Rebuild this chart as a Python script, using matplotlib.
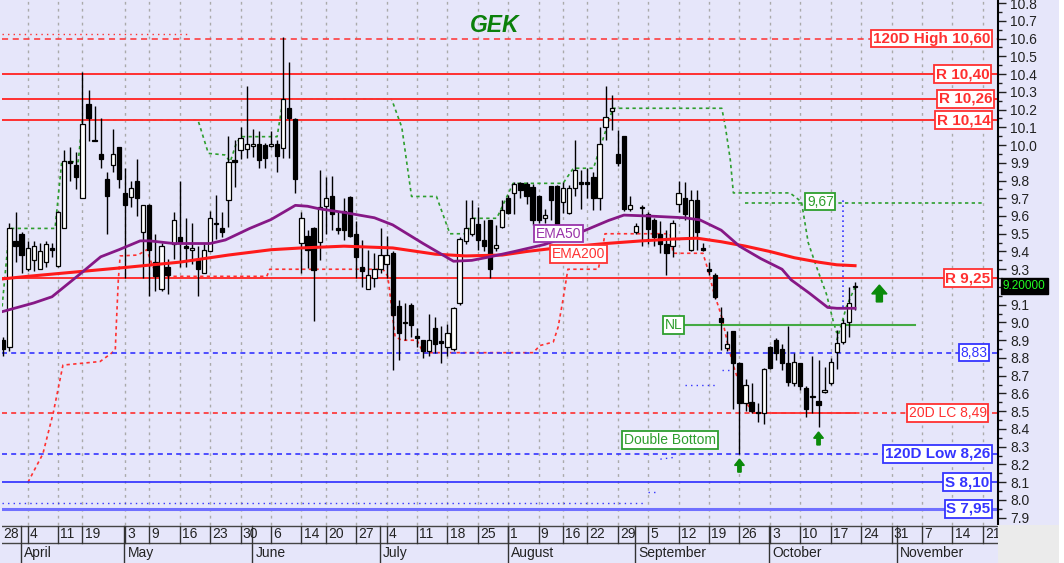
import numpy as np
import matplotlib.pyplot as plt
from matplotlib.patches import Rectangle, FancyArrow

plt.rcParams['font.family'] = ['Liberation Sans', 'DejaVu Sans']

BG = '#e6e6fa'

# ==================== data (trading-day index, 0 = 4 April) ====================
first_day = -4
opens = [8.90, 8.86, 9.46, 9.50, 9.30, 9.35, 9.30, 9.34, 9.42, 9.32,
         9.53, 9.91, 9.89, 9.70, 10.23, 10.03, 9.95, 9.81, 9.89, 9.99,
         9.73, 9.705, 9.80, 9.51, 9.66, 9.34, 9.19, 9.31, 9.44, 9.48,
         9.43, 9.41, 9.35, 9.28, 9.40, 9.56, 9.53, 9.69, 9.91, 9.97,
         9.975, 9.995, 10.005, 10.0, 9.995, 10.005, 9.985, 10.21, 10.145, 9.446,
         9.49, 9.53, 9.455, 9.656, 9.71, 9.53, 9.63, 9.705, 9.50, 9.31,
         9.19, 9.25, 9.30, 9.33, 9.39, 9.095, 9.00, 9.098, 8.925, 8.90,
         8.84, 8.97, 8.895, 8.86, 8.85, 9.11, 9.46, 9.50, 9.555, 9.465,
         9.58, 9.42, 9.54, 9.70, 9.73, 9.785, 9.78, 9.765, 9.71, 9.59,
         9.77, 9.77, 9.68, 9.615, 9.755, 9.79, 9.79, 9.82, 9.70, 10.10,
         10.19, 9.95, 10.05, 9.64, 9.51, 9.65, 9.61, 9.58, 9.50, 9.445,
         9.43, 9.67, 9.70, 9.41, 9.69, 9.42, 9.30, 9.27, 9.024, 8.855,
         8.95, 8.77, 8.545, 8.55, 8.497, 8.49, 8.86, 8.90, 8.85, 8.77,
         8.66, 8.77, 8.63, 8.58, 8.56, 8.61, 8.66, 8.835, 8.89, 9.00,
         9.20]
highs = [8.92, 9.56, 9.62, 9.51, 9.46, 9.46, 9.45, 9.46, 9.45, 9.63,
         9.97, 9.99, 9.96, 10.41, 10.31, 10.22, 10.15, 9.85, 10.09, 9.99,
         9.87, 9.80, 9.92, 9.66, 9.67, 9.50, 9.45, 9.36, 9.625, 9.80,
         9.59, 9.56, 9.43, 9.445, 9.63, 9.72, 9.625, 10.05, 10.03, 10.10,
         10.33, 10.09, 10.08, 10.01, 10.08, 10.03, 10.61, 10.47, 10.15, 9.62,
         9.52, 9.54, 9.86, 9.82, 9.825, 9.625, 9.70, 9.71, 9.57, 9.465,
         9.41, 9.39, 9.53, 9.49, 9.40, 9.127, 9.11, 9.11, 8.97, 8.90,
         9.05, 9.03, 8.98, 8.99, 9.09, 9.48, 9.69, 9.69, 9.65, 9.58,
         9.58, 9.55, 9.69, 9.72, 9.79, 9.79, 9.79, 9.78, 9.72, 9.64,
         9.77, 9.775, 9.79, 9.775, 10.03, 9.86, 9.87, 9.85, 10.10, 10.33,
         10.28, 10.085, 10.05, 9.71, 9.56, 9.66, 9.62, 9.59, 9.57, 9.52,
         9.58, 9.80, 9.79, 9.745, 9.745, 9.45, 9.34, 9.28, 9.09, 8.95,
         8.95, 8.78, 8.68, 8.66, 8.545, 8.745, 8.87, 8.91, 8.88, 8.98,
         8.83, 8.77, 8.64, 8.81, 8.79, 8.75, 8.80, 8.96, 9.02, 9.20,
         9.23]
lows = [8.81, 8.84, 9.34, 9.28, 9.29, 9.29, 9.30, 9.31, 9.37, 9.31,
        9.53, 9.80, 9.75, 9.70, 10.02, 10.02, 9.87, 9.50, 9.85, 9.76,
        9.25, 9.65, 9.60, 9.25, 9.15, 9.18, 9.18, 9.16, 9.36, 9.31,
        9.31, 9.33, 9.15, 9.28, 9.40, 9.47, 9.48, 9.54, 9.765, 9.92,
        9.925, 9.93, 9.87, 9.87, 9.99, 9.85, 9.925, 9.925, 9.73, 9.28,
        9.305, 9.01, 9.35, 9.50, 9.52, 9.50, 9.465, 9.48, 9.25, 9.20,
        9.19, 9.20, 9.28, 9.25, 8.73, 8.79, 8.90, 8.92, 8.86, 8.80,
        8.81, 8.83, 8.77, 8.81, 8.84, 9.10, 9.44, 9.49, 9.41, 9.40,
        9.25, 9.40, 9.53, 9.61, 9.61, 9.70, 9.67, 9.55, 9.56, 9.56,
        9.58, 9.53, 9.615, 9.61, 9.71, 9.64, 9.70, 9.634, 9.634, 10.03,
        10.085, 9.88, 9.63, 9.63, 9.50, 9.43, 9.44, 9.43, 9.39, 9.27,
        9.37, 9.62, 9.58, 9.40, 9.41, 9.40, 9.27, 9.13, 8.845, 8.84,
        8.51, 8.26, 8.50, 8.49, 8.44, 8.43, 8.74, 8.79, 8.73, 8.64,
        8.64, 8.62, 8.47, 8.49, 8.41, 8.60, 8.65, 8.74, 8.88, 8.92,
        9.07]
closes = [8.85, 9.53, 9.43, 9.38, 9.42, 9.43, 9.40, 9.44, 9.41, 9.62,
          9.91, 9.90, 9.82, 10.12, 10.15, 10.02, 9.92, 9.71, 9.95, 9.81,
          9.66, 9.76, 9.70, 9.66, 9.41, 9.26, 9.43, 9.27, 9.575, 9.455,
          9.42, 9.42, 9.30, 9.41, 9.59, 9.555, 9.51, 9.905, 9.905, 10.04,
          10.005, 10.005, 9.915, 9.925, 10.0, 9.94, 10.26, 10.15, 9.81, 9.587,
          9.41, 9.296, 9.65, 9.70, 9.61, 9.52, 9.52, 9.49, 9.367, 9.29,
          9.27, 9.30, 9.38, 9.38, 9.04, 8.94, 8.995, 8.985, 8.915, 8.84,
          8.90, 8.88, 8.885, 8.94, 9.08, 9.47, 9.53, 9.59, 9.465, 9.43,
          9.30, 9.435, 9.634, 9.615, 9.78, 9.745, 9.71, 9.58, 9.58, 9.605,
          9.69, 9.54, 9.755, 9.755, 9.86, 9.78, 9.78, 9.70, 10.006, 10.16,
          10.21, 9.90, 9.64, 9.66, 9.545, 9.645, 9.525, 9.48, 9.445, 9.39,
          9.56, 9.73, 9.61, 9.69, 9.51, 9.41, 9.29, 9.145, 9.005, 8.88,
          8.77, 8.545, 8.65, 8.50, 8.49, 8.74, 8.745, 8.83, 8.77, 8.667,
          8.78, 8.64, 8.51, 8.58, 8.535, 8.62, 8.78, 8.886, 8.995, 9.11,
          9.20]

ema50_days = [-4.3, 1, 4, 8.5, 12, 15, 18.5, 20, 24, 30, 32.5, 36.5, 40, 44, 46, 48, 52,
              57, 60, 65, 70, 73, 76, 80, 85, 91, 95.5, 98, 102, 108, 110.5, 114, 117,
              120.5, 124, 125.5, 128.5, 131.5, 133, 136]
ema50_vals = [9.06, 9.11, 9.145, 9.27, 9.37, 9.41, 9.46, 9.46, 9.445, 9.445, 9.465, 9.53,
              9.58, 9.66, 9.655, 9.64, 9.62, 9.59, 9.55, 9.445, 9.345, 9.35, 9.37, 9.40,
              9.44, 9.51, 9.575, 9.605, 9.60, 9.59, 9.578, 9.52, 9.43, 9.36, 9.30, 9.24,
              9.165, 9.085, 9.08, 9.08]
ema200_days = [-4.3, 0, 8, 16, 25, 33, 40, 45, 52, 60, 67, 72, 78, 82, 87, 95, 101, 106,
               110, 114, 118, 122, 126, 130, 133, 136]
ema200_vals = [9.245, 9.26, 9.285, 9.31, 9.34, 9.38, 9.41, 9.42, 9.43, 9.42, 9.385, 9.375,
               9.38, 9.40, 9.42, 9.445, 9.46, 9.47, 9.475, 9.455, 9.43, 9.40, 9.365, 9.34,
               9.325, 9.32]

# trailing stops
green_days = [-4.2, -3.0, 4.5, 5.6, 8.3, 9.0, 28.0, 29.7, 32.4, 33.3, 34.2, 35.0, 41.0, 42.0,
              59.8, 61.5, 63.1, 67.2, 69.4, 72.2, 73.2, 77.1, 79.8, 88.0, 89.7, 93.0, 95.2,
              96.2, 114.1, 114.7, 115.5, 116.0, 125.3, 127.2, 128.3, 129.7, 131.3, 132.4, 133.0]
green_vals = [9.09, 9.53, 9.53, 9.906, 9.906, 10.14, 10.14, 9.953, 9.944, 9.906, 10.0, 10.047,
              10.047, 10.26, 10.26, 10.10, 9.71, 9.71, 9.50, 9.50, 9.587, 9.587, 9.784, 9.784,
              9.869, 9.869, 10.10, 10.207, 10.207, 10.10, 9.915, 9.73, 9.73, 9.68, 9.45, 9.31,
              9.16, 9.01, 8.94]
green2_days = [133.0, 134.6, 136.0]
green2_vals = [8.90, 9.09, 9.20]
red_days = [0.05, 2.5, 4.2, 5.8, 11.9, 13.5, 14.4, 14.6, 14.9, 15.2, 18.1, 19.6, 20.4, 21.3,
            39.3, 39.8, 58.4, 59.2, 60.4, 61.5, 64.0, 64.8, 65.1, 83.1, 84.2, 86.4, 87.2, 88.0,
            88.8, 93.8, 94.4, 94.9, 105.6, 106.1, 111.0, 111.8, 112.7, 114.1, 115.0, 115.9,
            117.1, 118.2, 119.2]
red_vals = [8.10, 8.26, 8.49, 8.76, 8.78, 8.82, 8.845, 9.01, 9.24, 9.375, 9.38, 9.41, 9.33,
            9.26, 9.26, 9.30, 9.30, 9.26, 8.92, 8.90, 8.90, 8.845, 8.83, 8.83, 8.87, 8.89,
            8.975, 9.13, 9.30, 9.30, 9.40, 9.50, 9.50, 9.39, 9.39, 9.30, 9.18, 9.03, 8.89,
            8.77, 8.64, 8.545, 8.49]

# axis labels
tick_days = [-5, 0, 5, 9, 16, 20, 25, 30, 35, 40, 45, 49, 54, 59, 64, 69, 74, 79, 84, 88,
             92, 97, 102, 107, 112, 117, 122, 127, 132, 137, 142, 147, 152, 157]
tick_labels = ['28', '4', '11', '19', '3', '9', '16', '23', '30', '6', '14', '20', '27', '4',
               '11', '18', '25', '1', '9', '16', '22', '29', '5', '12', '19', '26', '3', '10',
               '17', '24', '31', '7', '14', '21']
month_days = [-1, 16, 37, 58, 79, 100, 122, 143]
month_names = ['April', 'May', 'June', 'July', 'August', 'September', 'October', 'November']

XMIN, XMAX = -4.22, 159.5
YMIN, YMAX = 7.859, 10.817

RED = '#ff3030'
BLUE = '#3434ff'
GREEN = '#2e9e2e'

fig = plt.figure(figsize=(10.64, 5.63), dpi=100, facecolor=BG)
fig.patches.append(Rectangle((1059 / 1064, 0), 5 / 1064, 1, transform=fig.transFigure,
                             fc='white', ec='none', zorder=0))
fig.patches.append(Rectangle((998 / 1064, 0), 61 / 1064, 38 / 563, transform=fig.transFigure,
                             fc='#ebebeb', ec='none', zorder=0))

ax = fig.add_axes([2 / 1064, 38 / 563, 996 / 1064, 525 / 563], facecolor=BG)
ax.set_xlim(XMIN, XMAX)
ax.set_ylim(YMIN, YMAX)

# vertical grid
for d in tick_days:
    ax.axvline(d, color='#aaaaaa', lw=1, ls=(0, (2, 3)), zorder=0)

# trailing stops (below the level lines)
ax.plot(green_days, green_vals, color=GREEN, lw=1.2, ls=(0, (2, 2)), zorder=0.8)
ax.plot(green2_days, green2_vals, color=GREEN, lw=1.2, ls=(0, (2, 2)), zorder=0.8)
ax.plot(red_days, red_vals, color=RED, lw=1.2, ls=(0, (2, 2)), zorder=0.8)

# ==================== horizontal levels ====================
ax.axhline(10.60, color=RED, lw=1.1, ls=(0, (4, 3)), zorder=1)
ax.plot([XMIN, 26.2], [10.625, 10.625], color=RED, lw=1, ls=(0, (1, 3)), zorder=1)
for lv in [10.40, 10.26, 10.14, 9.25]:
    ax.axhline(lv, color=RED, lw=1.4, zorder=1)
ax.axhline(8.83, color=BLUE, lw=1.2, ls=(0, (3, 2.5)), zorder=1)
ax.axhline(8.49, color=RED, lw=1.2, ls=(0, (3, 2.5)), zorder=1)
ax.plot([119.2, 136], [8.49, 8.49], color=RED, lw=1.3, zorder=1)
ax.axhline(8.26, color=BLUE, lw=1.2, ls=(0, (3, 2.5)), zorder=1)
ax.axhline(8.10, color='#2b2bff', lw=1.2, zorder=1)
ax.axhline(7.95, color='#7070ff', lw=2.2, zorder=1)
ax.plot([XMIN, 101.5], [7.985, 7.985], color=BLUE, lw=1, ls=(0, (1, 3)), zorder=1)
ax.plot([108, 113.3], [8.648, 8.648], color=BLUE, lw=1, ls=(0, (1, 3)), zorder=1)
ax.plot([114.2, 115.5], [8.73, 8.73], color=BLUE, lw=1, ls=(0, (1, 3)), zorder=1)
ax.plot([104, 106.3], [8.23, 8.24], color=BLUE, lw=1, ls=(0, (1, 3)), zorder=1)
ax.plot([102, 103.2], [8.045, 8.045], color=BLUE, lw=1, ls=(0, (1, 3)), zorder=1)

# neck line, 9,67 line, blue vertical marker
ax.plot([106, 145.9], [8.985, 8.985], color='#44aa44', lw=1.5, zorder=1)
ax.plot([117.9, 157.0], [9.675, 9.675], color=GREEN, lw=1.2, ls=(0, (2, 2)), zorder=1)
ax.plot([134.1, 134.1], [9.09, 9.69], color=BLUE, lw=1.2, ls=(0, (1, 2)), zorder=2)

# ==================== candles ====================
days = np.arange(first_day, first_day + len(opens))
o = np.array(opens)
h = np.array(highs)
l = np.array(lows)
c = np.array(closes)
ax.vlines(days, l, h, color='black', lw=1, zorder=3)
up = c >= o
body = np.maximum(np.abs(c - o), 0.008)
ax.bar(days[up], body[up], bottom=np.minimum(o, c)[up], width=0.7,
       color='white', edgecolor='black', lw=0.9, zorder=3)
ax.bar(days[~up], body[~up], bottom=np.minimum(o, c)[~up], width=0.7,
       color='black', edgecolor='black', lw=0.9, zorder=3)

# moving averages
ax.plot(ema200_days, ema200_vals, color='#ff1a1a', lw=2.2, zorder=4)
ax.plot(ema50_days, ema50_vals, color='#861886', lw=2, zorder=4)

# ==================== labels ====================
def box(x, y, s, col, bold=False, ha='center', size=9.5, tr=None):
    kw = dict(transform=tr) if tr is not None else {}
    ax.text(x, y, s, color=col, ha=ha, va='center', fontsize=size,
            fontweight='bold' if bold else 'normal', zorder=6, **kw,
            bbox=dict(boxstyle='square,pad=0.12', fc='white', ec=col, lw=1.3))

right_labels = [
    ('120D High 10,60', 10.60, RED, True, 0.9925),
    ('R 10,40', 10.40, RED, True, 0.9915),
    ('R 10,26', 10.26, RED, True, 0.9945),
    ('R 10,14', 10.14, RED, True, 0.9925),
    ('R 9,25', 9.25, RED, True, 0.9925),
    ('8,83', 8.83, BLUE, False, 0.9895),
    ('20D LC 8,49', 8.49, RED, False, 0.9885),
    ('120D Low 8,26', 8.26, BLUE, True, 0.9925),
    ('S 8,10', 8.10, BLUE, True, 0.9915),
    ('S 7,95', 7.95, BLUE, True, 0.9925),
]
for s, y, col, bold, x in right_labels:
    box(x, y, s, col, bold=bold, ha='right', size=11 if bold else 10,
        tr=ax.get_yaxis_transform())

box(87.2, 9.50, 'EMA50', '#9933aa', size=10)
box(90.5, 9.386, 'EMA200', '#ff3333', size=10)
box(106.2, 8.986, 'NL', GREEN, size=10)
box(105.6, 8.338, 'Double Bottom', GREEN, size=10)
box(130.3, 9.68, '9,67', GREEN, size=10)

ax.text(0.495, 0.952, 'GEK', transform=ax.transAxes, ha='center', va='center',
        fontsize=16.5, fontweight='bold', fontstyle='italic', color='#0b800b', zorder=6)

# up arrows
for x, y0, ln, w, hw, hl in [(140, 9.116, 0.095, 1.0, 2.5, 0.05),
                             (117, 8.157, 0.073, 0.55, 1.6, 0.035),
                             (130, 8.31, 0.073, 0.55, 1.6, 0.035)]:
    ax.add_patch(FancyArrow(x, y0, 0, ln, width=w, head_width=hw, head_length=hl,
                            length_includes_head=True, color='#0a8a0a', zorder=6))

# last price tag
ax.text(1.005, 9.205, '9.20000', transform=ax.get_yaxis_transform(), ha='left', va='center',
        color='#22ff22', fontsize=8.5, clip_on=False, zorder=7,
        bbox=dict(boxstyle='square,pad=0.2', fc='black', ec='black'))

# ==================== axes styling ====================
for side in ['left', 'top', 'bottom']:
    ax.spines[side].set_visible(False)
ax.spines['right'].set_linewidth(1.5)
ax.set_xticks([])
ax.yaxis.tick_right()
yt = np.round(np.arange(7.9, 10.81, 0.1), 1)
ax.set_yticks(yt)
# the 9.2 label sits under the last price tag
ax.set_yticklabels(['' if abs(v - 9.2) < 1e-6 else f'{v:.1f}' for v in yt])
ax.set_yticks(np.round(np.arange(7.95, 10.81, 0.1), 2), minor=True)
ax.tick_params(axis='y', which='major', length=6, width=1, labelsize=10, pad=3, colors='#222222')
ax.tick_params(axis='y', which='minor', length=3, width=1, colors='#222222')

# date strip
ax2 = fig.add_axes([2 / 1064, 0, 996 / 1064, 38 / 563], facecolor=BG)
ax2.set_xlim(XMIN, XMAX)
ax2.set_ylim(0, 38)
ax2.axis('off')
ax2.add_patch(Rectangle((XMIN, 0), XMAX - XMIN, 38, fc=BG, ec='none', zorder=0))
ax2.axhline(37, color='#444444', lw=1)
ax2.axhline(20, color='#444444', lw=1)
for d, s in zip(tick_days, tick_labels):
    ax2.plot([d, d], [20, 37], color='#333333', lw=1)
    ax2.text(max(d + 0.35, XMIN + 0.2), 28.5, s, ha='left', va='center', fontsize=10,
             color='#222222', clip_on=True)
for d, s in zip(month_days, month_names):
    ax2.plot([d - 0.1, d - 0.1], [0, 37], color='#333333', lw=1)
    ax2.text(d + 0.45, 10, s, ha='left', va='center', fontsize=10, color='#222222',
             clip_on=True)

plt.savefig('out.png', dpi=100, facecolor=BG)
